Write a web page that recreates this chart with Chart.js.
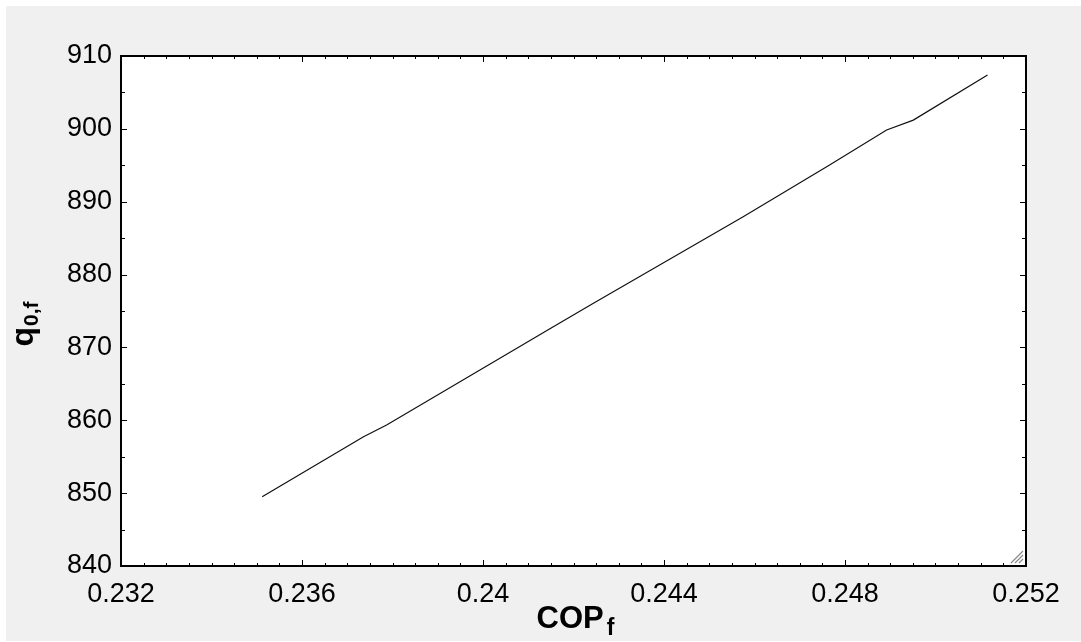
<!DOCTYPE html>
<html>
<head>
<meta charset="utf-8">
<script src="https://cdn.jsdelivr.net/npm/chart.js@4.4.1/dist/chart.umd.min.js"></script>
<style>
  html, body { margin: 0; padding: 0; background: #fff; }
  #wrap { position: absolute; left: 6px; top: 6px; width: 1075px; height: 635px; background: #f0f0f0; }
</style>
</head>
<body>
<div id="wrap"><canvas id="myChart"></canvas></div>
<script>
// values
const cop = [0.23512, 0.23736, 0.23787, 0.24146, 0.24244, 0.24575, 0.24765, 0.24892, 0.24951, 0.25115];
const q0f = [849.5, 857.75, 859.35, 872.5, 876.05, 887.95, 895.0, 899.85, 901.2, 907.4];

const xTicks = [0.232, 0.236, 0.24, 0.244, 0.248, 0.252];
const yTicks = [840, 850, 860, 870, 880, 890, 900, 910];
const xMinorStep = 0.0005;
const yMinorStep = 5;

const FONT = "Arial, 'Liberation Sans', sans-serif";

// white plot area, frame, inward ticks on all four sides, axis titles
const framePlugin = {
  id: "frame",
  beforeDraw(chart) {
    const { ctx, chartArea: a } = chart;
    ctx.save();
    ctx.fillStyle = "#fff";
    ctx.fillRect(a.left, a.top, a.right - a.left, a.bottom - a.top);
    ctx.restore();
  },
  afterDraw(chart) {
    const { ctx, chartArea: a, scales } = chart;
    const xs = scales.x, ys = scales.y;
    ctx.save();
    ctx.strokeStyle = "#000";
    ctx.lineWidth = 1;
    ctx.beginPath();
    // x ticks (bottom and top)
    const nx = Math.round((xs.max - xs.min) / xMinorStep);
    for (let i = 0; i <= nx; i++) {
      const v = xs.min + i * xMinorStep;
      const px = Math.round(xs.getPixelForValue(v)) + 0.5;
      const len = i % 8 === 0 ? 6 : 3;
      ctx.moveTo(px, a.bottom); ctx.lineTo(px, a.bottom - len);
      ctx.moveTo(px, a.top); ctx.lineTo(px, a.top + len);
    }
    // y ticks (left and right)
    const ny = Math.round((ys.max - ys.min) / yMinorStep);
    for (let i = 0; i <= ny; i++) {
      const v = ys.min + i * yMinorStep;
      const py = Math.round(ys.getPixelForValue(v)) + 0.5;
      const len = i % 2 === 0 ? 6 : 4;
      ctx.moveTo(a.left, py); ctx.lineTo(a.left + len, py);
      ctx.moveTo(a.right, py); ctx.lineTo(a.right - len, py);
    }
    ctx.stroke();

    // frame
    ctx.lineWidth = 2;
    ctx.strokeRect(a.left, a.top, a.right - a.left, a.bottom - a.top);

    // resize grip in the corner
    ctx.strokeStyle = "#8a8a8a";
    ctx.lineWidth = 1.2;
    ctx.beginPath();
    for (const d of [4, 8, 12]) {
      ctx.moveTo(a.right - 3, a.bottom - 3 - d);
      ctx.lineTo(a.right - 3 - d, a.bottom - 3);
    }
    ctx.stroke();

    // x title: COP with subscript f
    ctx.fillStyle = "#000";
    ctx.textBaseline = "alphabetic";
    ctx.font = "bold 31px " + FONT;
    const wMain = ctx.measureText("COP").width;
    ctx.font = "bold 23px " + FONT;
    const wSub = ctx.measureText("f").width;
    const cx = (a.left + a.right) / 2 + 2;
    const x0 = cx - (wMain + wSub + 3) / 2;
    ctx.font = "bold 31px " + FONT;
    ctx.fillText("COP", x0, 622);
    ctx.font = "bold 23px " + FONT;
    ctx.fillText("f", x0 + wMain + 3, 629);

    // y title: q with subscript 0,f (rotated)
    ctx.translate(0, 318);
    ctx.rotate(-Math.PI / 2);
    ctx.font = "bold 32px " + FONT;
    const wq = ctx.measureText("q").width;
    ctx.font = "bold 21px " + FONT;
    const ws = ctx.measureText("0,f").width;
    const y0 = -(wq + ws + 1) / 2;
    ctx.font = "bold 32px " + FONT;
    ctx.fillText("q", y0, 27);
    ctx.font = "bold 21px " + FONT;
    ctx.fillText("0,f", y0 + wq + 1, 32);
    ctx.restore();
  }
};

const data = {
  datasets: [
    {
      data: cop.map((x, i) => ({ x: x, y: q0f[i] })),
      borderColor: "#111",
      borderWidth: 1.2,
      pointRadius: 0,
      tension: 0,
      fill: false
    }
  ]
};

const config = {
  type: "line",
  data: data,
  plugins: [framePlugin],
  options: {
    responsive: true,
    maintainAspectRatio: false,
    animation: false,
    layout: { padding: { top: 50, right: 55, left: 0, bottom: 0 } },
    plugins: { legend: { display: false }, tooltip: { enabled: false } },
    scales: {
      x: {
        type: "linear",
        min: 0.232,
        max: 0.252,
        afterBuildTicks: (s) => { s.ticks = xTicks.map((v) => ({ value: v })); },
        afterFit: (s) => { s.height = 75; },
        grid: { display: false, drawTicks: false },
        border: { display: false },
        ticks: {
          color: "#000",
          padding: 12,
          maxRotation: 0,
          autoSkip: false,
          font: { family: FONT, size: 27 },
          callback: (v) => String(parseFloat(Number(v).toFixed(4)))
        }
      },
      y: {
        min: 840,
        max: 910,
        afterBuildTicks: (s) => { s.ticks = yTicks.map((v) => ({ value: v })); },
        afterFit: (s) => { s.width = 115; },
        grid: { display: false, drawTicks: false },
        border: { display: false },
        ticks: {
          color: "#000",
          padding: 9,
          autoSkip: false,
          font: { family: FONT, size: 27 },
          callback: (v) => String(v)
        }
      }
    }
  }
};

const ctx = document.getElementById("myChart");
const myChart = new Chart(ctx, config);
</script>
</body>
</html>
